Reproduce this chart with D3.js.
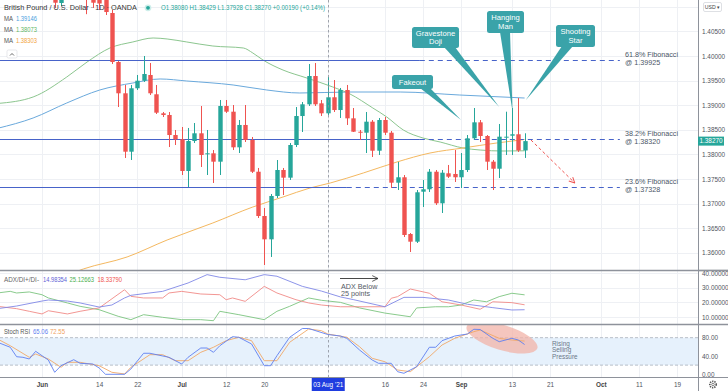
<!DOCTYPE html>
<html><head><meta charset="utf-8">
<script src="https://cdn.jsdelivr.net/npm/d3@7"></script>
<style>body{margin:0;background:#fff;overflow:hidden}svg{display:block;font-family:"Liberation Sans",Arial,sans-serif}</style>
</head><body><svg id="c" width="728" height="391"></svg>
<script>
// ---------- DATA ----------
const candleIdx = [-7,-6,-5,-4,-3,-2,-1,0,1,2,3,4,5,6,7,8,9,10,11,12,13,14,15,16,17,18,19,20,21,22,23,24,25,26,27,28,29,30,31,32,33,34,35,36,37,38,39,40,41,42,43,44,45,46,47,48,49,50,51,52,53,54,55,56,57,58,59,60,61,62,63,64,65,66,67,68,69,70,71,72,73,74,75,76];
const openP = [1.4170,1.4150,1.4180,1.4150,1.4130,1.4190,1.4180,1.4170,1.4160,1.4124,1.41077,1.4125,1.4160,1.4140,1.4145,1.41199,1.41179,1.41138,1.40874,1.39878,1.39242,1.38055,1.39344,1.39498,1.39614,1.39222,1.38835,1.38801,1.38394,1.38307,1.37663,1.38272,1.38429,1.38002,1.38022,1.37852,1.38984,1.38868,1.38144,1.38598,1.38293,1.37648,1.36748,1.36274,1.37155,1.37683,1.37527,1.38191,1.38780,1.39018,1.39593,1.39038,1.38835,1.39161,1.38902,1.39309,1.38733,1.38461,1.38441,1.38665,1.38075,1.38699,1.38441,1.37425,1.37535,1.36382,1.36226,1.37242,1.37291,1.37648,1.37006,1.37616,1.37602,1.37535,1.37683,1.38327,1.38652,1.38374,1.37852,1.37709,1.38348,1.38380,1.38409,1.38080];
const highP = [1.4200,1.4190,1.4200,1.4165,1.4200,1.4220,1.4210,1.4230,1.4190,1.4144,1.4150,1.4170,1.4175,1.4160,1.4155,1.4140,1.4135,1.4130,1.40935,1.39898,1.39411,1.39411,1.39614,1.40000,1.39858,1.39411,1.38862,1.38862,1.38496,1.38557,1.38537,1.38638,1.38984,1.38496,1.38089,1.39106,1.39106,1.39004,1.38699,1.39004,1.38354,1.37724,1.36911,1.37195,1.37886,1.37724,1.38232,1.38963,1.39065,1.39837,1.39858,1.39106,1.39573,1.39512,1.39350,1.39411,1.38943,1.38496,1.38862,1.38699,1.38740,1.38760,1.38476,1.37846,1.37581,1.36402,1.37276,1.37480,1.37703,1.37683,1.37683,1.37785,1.38089,1.38028,1.38394,1.38943,1.38699,1.38394,1.37886,1.38618,1.38868,1.38943,1.39146,1.38429];
const lowP = [1.4140,1.4130,1.4140,1.4120,1.4125,1.4160,1.4150,1.4140,1.4120,1.40976,1.41016,1.4120,1.4130,1.4118,1.4085,1.40976,1.40935,1.40833,1.39837,1.38963,1.37927,1.37886,1.39309,1.39472,1.39207,1.38821,1.38760,1.38150,1.38191,1.37581,1.37337,1.38232,1.37744,1.37581,1.37419,1.37581,1.38841,1.38089,1.38028,1.38252,1.37622,1.36707,1.35752,1.35915,1.37114,1.37175,1.37480,1.38150,1.38455,1.38984,1.38984,1.38780,1.38801,1.38862,1.38740,1.38598,1.38455,1.38293,1.38028,1.37947,1.37988,1.38394,1.37317,1.37276,1.36321,1.36016,1.36199,1.36931,1.37236,1.36972,1.36809,1.37520,1.37439,1.37317,1.37642,1.38293,1.38252,1.37683,1.37276,1.37520,1.37988,1.37988,1.38049,1.37928];
const closeP = [1.4150,1.4180,1.4150,1.4130,1.4190,1.4180,1.4170,1.4160,1.4170,1.41083,1.4125,1.4160,1.4140,1.4145,1.4120,1.41083,1.41067,1.40894,1.39878,1.39242,1.38055,1.39344,1.39498,1.39634,1.39242,1.38848,1.38801,1.38394,1.38307,1.37663,1.38272,1.38429,1.37988,1.38022,1.37852,1.38984,1.38868,1.38144,1.38598,1.38293,1.37648,1.36748,1.36274,1.37155,1.37683,1.37527,1.38191,1.38780,1.39018,1.39593,1.39018,1.38835,1.39161,1.38902,1.39309,1.38733,1.38461,1.38441,1.38665,1.38075,1.38699,1.38441,1.37425,1.37535,1.36362,1.36226,1.37230,1.37291,1.37648,1.37006,1.37628,1.37547,1.37535,1.37683,1.38327,1.38652,1.38374,1.37852,1.37709,1.38360,1.38360,1.38409,1.38080,1.38270];

// moving averages [day index, price]
const maBlue = [[-7,1.38530],[-1.4,1.38740],[3.9,1.39045],[9.1,1.39309],[14.3,1.39451],[18.6,1.39533],[22.8,1.39492],[30.1,1.39411],[35.4,1.39309],[40.6,1.39248],[48.5,1.39268],[56.4,1.39268],[65.8,1.39207],[76,1.39146]];
const maGreen = [[-7,1.39035],[-1.4,1.39167],[3.9,1.39573],[7.1,1.39878],[10.7,1.40163],[14.3,1.40285],[17.5,1.40366],[19.7,1.40346],[22.8,1.40285],[26.9,1.40203],[31.7,1.40163],[33.2,1.40061],[34.8,1.39919],[37.95,1.39715],[41.7,1.39553],[45.8,1.39370],[48.5,1.39228],[52.1,1.38943],[54.3,1.38760],[56.9,1.38496],[60,1.38333],[62.7,1.38252],[66.3,1.38130],[69,1.38089],[72.6,1.38069],[76,1.38073]];
const maOrange = [[2.8,1.35488],[6.5,1.35671],[13.4,1.35915],[19.7,1.36260],[26.9,1.36606],[33.2,1.36931],[37.95,1.37134],[42.2,1.37317],[45.4,1.37419],[50.6,1.37622],[55.9,1.37846],[61.1,1.38028],[66.3,1.38130],[71.6,1.38232],[76,1.38303]];

// ADX / DI+ / DI-
const adxIdx = [-7,-4,0,1,4,6,9,11,13,14,19,23,26,28,32,35,37,41,44,47,49,54,57,60,64,67,71,74,76];
const adxVal = [15.7,17.5,20.9,21.6,20.9,19.6,16.8,18.2,23.0,24.8,27.5,33.2,38.9,37.1,35.4,38.9,37.8,30.9,27.7,23.7,21.9,17.0,23.4,23.4,21.6,18.7,16.4,14.8,14.98];
const diPlusIdx = [-7,-5,-4,-2,0,1,4,6,9,12,14,16,19,22,25,27,28,31,35,37,39,42,44,47,50,54,58,59,62,64,66,68,70,72,74,76];
const diPlusVal = [26.4,27.5,26.4,27.1,25.2,23.0,19.6,17.3,15.0,10.5,8.2,11.6,9.8,8.2,8.2,7.5,13.9,11.6,8.2,13.9,17.3,23.0,21.4,20.0,16.2,12.7,10.2,16.2,17.0,17.0,18.2,21.6,20.4,23.9,26.2,25.13];
const diMinusIdx = [-7,-4,-2,0,1,4,6,9,13,14,16,19,20,22,25,28,29,30,32,35,37,40,42,44,47,54,55,56,58,61,63,66,69,71,74,76];
const diMinusVal = [17.3,15.7,13.9,12.1,14.3,12.1,13.9,16.2,28.6,24.1,23.0,23.0,26.4,27.5,25.7,25.2,21.8,23.0,20.7,30.9,26.4,21.8,19.6,18.2,17.0,17.0,22.8,23.9,29.1,26.2,20.4,18.2,15.3,20.4,19.8,18.34];

// Stoch RSI
const kIdx = [-7,-5,-4,-3,-2,-1,0,1,2,3,5,6,8,9,10,13,14,16,17,20,22,23,25,26,27,28,30,31,33,35,36,37,39,41,42,45,47,48,50,52,53,55,56,57,59,61,62,63,65,67,68,69,71,72,74,75,76];
const kVal = [69.9,59.0,38.4,37.1,33.4,50.2,40.6,31.2,4.4,18.8,31.9,24.0,22.5,13.8,0,0,11.6,45.9,45.9,37.1,22.5,37.1,57.4,57.4,48.0,62.4,82.1,80.8,66.2,18.8,18.8,40.6,80.8,100,100,86.9,83.6,78.6,53.1,31.2,24.0,24.0,5.7,2.2,16.6,59.0,59.0,73.4,83.6,88.0,98.3,97.8,78.6,71.2,78.6,74.9,65.06];
const dIdx = [-7,-5,-2,-1,1,3,4,6,9,11,13,14,17,19,21,23,25,27,29,31,33,35,37,39,42,44,45,48,50,52,54,56,58,61,63,65,68,69,72,74,76];
const dVal = [77.1,62.4,37.1,44.3,33.4,15.3,26.2,26.2,18.8,4.4,0.7,15.3,42.8,42.8,29.7,29.7,48.0,59.0,73.4,80.8,73.4,29.7,29.7,69.9,98.9,95.2,88.0,80.8,60.3,34.9,27.5,9.4,5.7,38.4,64.0,78.6,93.0,96.7,78.6,74.9,72.55];

// axis ticks
const priceTicks = [1.36,1.365,1.37,1.375,1.38,1.385,1.39,1.395,1.40,1.405];
const priceGrid = [1.36,1.365,1.37,1.375,1.38,1.385,1.39,1.395,1.40,1.405,1.41];
const adxTicks = [10,20,30,40];
const stochTicks = [0,40,80];
const dateTickIdx = [0,9,15,22,29,35,45,54,60,66,74,80,88,94,100];
const dateTickLabels = ["Jun","14","22","Jul","12","20","03 Aug '21","16","24","Sep","13","21","Oct","11","19"];

// fibonacci levels
const fibNames = ["61.8% Fibonacci","38.2% Fibonacci","23.6% Fibonacci"];
const fibLevels = [1.39925,1.38320,1.37328];

// ---------- SCALES ----------
const W=728, PR=698;
const x = d3.scaleLinear().domain([0,100]).range([42,677]);
const yP = d3.scaleLinear().domain([1.36,1.40]).range([252.8,56]);
const yA = d3.scaleLinear().domain([10,40]).range([317.03,273.02]);
const yS = d3.scaleLinear().domain([0,100]).range([374.3,328.5]);
const UP="#26a69a", DN="#ef5350";

const svg = d3.select("#c");
const defs = svg.append("defs");
[["cm",0,0,PR,270],["ca",0,271,PR,53],["cs",0,325,PR,52]].forEach(c=>{
  defs.append("clipPath").attr("id",c[0]).append("rect").attr("x",c[1]).attr("y",c[2]).attr("width",c[3]).attr("height",c[4]);
});
defs.append("marker").attr("id","arrR").attr("viewBox","0 0 10 10").attr("refX",9).attr("refY",5)
  .attr("markerWidth",7).attr("markerHeight",7).attr("orient","auto")
  .append("path").attr("d","M1,1 L9,5 L1,9").attr("fill","none").attr("stroke","#ef5350").attr("stroke-width",1.4);
defs.append("marker").attr("id","arrK").attr("viewBox","0 0 10 10").attr("refX",9).attr("refY",5)
  .attr("markerWidth",8).attr("markerHeight",8).attr("orient","auto")
  .append("path").attr("d","M1,1 L9,5 L1,9").attr("fill","none").attr("stroke","#333").attr("stroke-width",1.1);

// ---------- GRID ----------
const grid = svg.append("g").attr("stroke","#eef0f4").attr("stroke-width",1);
grid.selectAll("line.v").data(dateTickIdx).join("line")
  .attr("x1",d=>Math.round(x(d))+0.5).attr("x2",d=>Math.round(x(d))+0.5).attr("y1",0).attr("y2",377);
grid.selectAll("line.hp").data(priceGrid).join("line").attr("class","hp")
  .attr("x1",0).attr("x2",PR).attr("y1",d=>Math.round(yP(d))+0.5).attr("y2",d=>Math.round(yP(d))+0.5);
grid.selectAll("line.ha").data(adxTicks).join("line").attr("class","ha")
  .attr("x1",0).attr("x2",PR).attr("y1",d=>Math.round(yA(d))+0.5).attr("y2",d=>Math.round(yA(d))+0.5);
grid.selectAll("line.hs").data([40]).join("line").attr("class","hs")
  .attr("x1",0).attr("x2",PR).attr("y1",d=>Math.round(yS(d))+0.5).attr("y2",d=>Math.round(yS(d))+0.5);

// ---------- STOCH BAND ----------
svg.append("rect").attr("x",0).attr("width",PR).attr("y",yS(80)).attr("height",yS(20)-yS(80)).attr("fill","#e6f1fc");
[80,20].forEach(v=>svg.append("line").attr("x1",0).attr("x2",PR).attr("y1",yS(v)).attr("y2",yS(v))
  .attr("stroke","#a9b0bb").attr("stroke-dasharray","3,2").attr("stroke-width",0.8));

// ---------- MAIN PANE ----------
const mg = svg.append("g").attr("clip-path","url(#cm)");
const maLine = d3.line().x(d=>x(d[0])).y(d=>yP(d[1])).curve(d3.curveMonotoneX);
mg.append("path").attr("d",maLine(maBlue)).attr("fill","none").attr("stroke","#6aa9dc").attr("stroke-width",1);
mg.append("path").attr("d",maLine(maGreen)).attr("fill","none").attr("stroke","#8cc68f").attr("stroke-width",1);
mg.append("path").attr("d",maLine(maOrange)).attr("fill","none").attr("stroke","#f4b860").attr("stroke-width",1);

// fib lines
const fibSolidEnd=[59.5,59.5,48], fibDashEnd=91;
fibLevels.forEach((lv,k)=>{
  const yy = Math.round(yP(lv))+0.5;
  mg.append("line").attr("x1",0).attr("x2",x(fibSolidEnd[k])).attr("y1",yy).attr("y2",yy).attr("stroke","#4763c9").attr("stroke-width",1);
  mg.append("line").attr("x1",x(fibSolidEnd[k])).attr("x2",x(fibDashEnd)).attr("y1",yy).attr("y2",yy)
    .attr("stroke","#4763c9").attr("stroke-width",1).attr("stroke-dasharray","5,4");
  mg.append("text").attr("x",x(91.8)).attr("y",yy-4).attr("font-size",7.2).attr("fill","#4a5566").text(fibNames[k]);
  mg.append("text").attr("x",x(91.8)).attr("y",yy+4.5).attr("font-size",7.2).attr("fill","#4a5566").text("@ "+lv.toFixed(5));
});

// candles
const cd = candleIdx.map((d,i)=>({i:d,o:openP[i],h:highP[i],l:lowP[i],c:closeP[i]}));
const bw = 4.4;
mg.selectAll("line.w").data(cd).join("line").attr("class","w")
  .attr("x1",d=>Math.round(x(d.i))+0.5).attr("x2",d=>Math.round(x(d.i))+0.5)
  .attr("y1",d=>yP(d.h)).attr("y2",d=>yP(d.l)).attr("stroke",d=>d.c>=d.o?UP:DN).attr("stroke-width",1);
mg.selectAll("rect.b").data(cd).join("rect").attr("class","b")
  .attr("x",d=>Math.round(x(d.i))+0.5-bw/2).attr("width",bw)
  .attr("y",d=>yP(Math.max(d.o,d.c))).attr("height",d=>Math.max(1,Math.abs(yP(d.o)-yP(d.c))))
  .attr("fill",d=>d.c>=d.o?UP:DN);

// red projection arrow
mg.append("line").attr("x1",x(77)).attr("y1",yP(1.38293)).attr("x2",x(83.9)).attr("y2",yP(1.37419))
  .attr("stroke","#ef5350").attr("stroke-width",1).attr("stroke-dasharray","3,2.5").attr("marker-end","url(#arrR)");

// callouts
const TEAL="#3aa3a9";
function callout(bx,by,bw2,bh,base1,base2,tip,lines){
  const g=svg.append("g");
  g.append("path").attr("d",`M${base1},${by+bh-1} L${tip[0]},${tip[1]} L${base2},${by+bh-1} Z`).attr("fill",TEAL);
  g.append("rect").attr("x",bx).attr("y",by).attr("width",bw2).attr("height",bh).attr("rx",2.5).attr("fill",TEAL);
  const cy = by+bh/2 - (lines.length-1)*4.2;
  lines.forEach((t,j)=>g.append("text").attr("x",bx+bw2/2).attr("y",cy+j*8.4).attr("dy","0.35em")
    .attr("text-anchor","middle").attr("font-size",7.6).attr("fill","#fff").text(t));
}
callout(392,75,41,14,420,430,[x(66),yP(1.38699)],["Fakeout"]);
callout(412,27,47,21,444,455,[x(72),yP(1.38963)],["Gravestone","Doji"]);
callout(487,11,37,22,500,510,[x(74.1),yP(1.38868)],["Hanging","Man"]);
callout(556,25,39,22,562,573,[x(76.2),yP(1.39106)],["Shooting","Star"]);

// ---------- ADX PANE ----------
const ag = svg.append("g").attr("clip-path","url(#ca)");
const lineA = d3.line().x(d=>x(d[0])).y(d=>yA(d[1]));
ag.append("path").attr("d",lineA(diPlusIdx.map((d,i)=>[d,diPlusVal[i]]))).attr("fill","none").attr("stroke","#7cc47f").attr("stroke-width",0.9);
ag.append("path").attr("d",lineA(diMinusIdx.map((d,i)=>[d,diMinusVal[i]]))).attr("fill","none").attr("stroke","#f08a87").attr("stroke-width",0.9);
ag.append("path").attr("d",lineA(adxIdx.map((d,i)=>[d,adxVal[i]]))).attr("fill","none").attr("stroke","#8088e6").attr("stroke-width",0.9);
svg.append("line").attr("x1",340).attr("x2",378).attr("y1",278.5).attr("y2",278.5).attr("stroke","#333").attr("stroke-width",0.9).attr("marker-end","url(#arrK)");
svg.append("text").attr("x",341).attr("y",288.5).attr("font-size",7.2).attr("fill","#555b66").text("ADX Below");
svg.append("text").attr("x",341).attr("y",296).attr("font-size",7.2).attr("fill","#555b66").text("25 points");

// ---------- STOCH PANE ----------
const sg = svg.append("g").attr("clip-path","url(#cs)");
sg.append("ellipse").attr("cx",502).attr("cy",337.5).attr("rx",37).attr("ry",12.5)
  .attr("transform","rotate(17,502,337.5)").attr("fill","#f2b3a8").attr("opacity",0.75);
const lineS = d3.line().x(d=>x(d[0])).y(d=>yS(d[1]));
sg.append("path").attr("d",lineS(dIdx.map((d,i)=>[d,dVal[i]]))).attr("fill","none").attr("stroke","#f0a868").attr("stroke-width",0.9);
sg.append("path").attr("d",lineS(kIdx.map((d,i)=>[d,kVal[i]]))).attr("fill","none").attr("stroke","#5f7ff0").attr("stroke-width",0.9);
["Rising","Selling","Pressure"].forEach((t,j)=>svg.append("text").attr("x",552).attr("y",345.6+j*6.8).attr("font-size",6.4).attr("fill","#6b7888").text(t));

// crosshair vertical
svg.append("line").attr("x1",Math.round(x(45))+0.5).attr("x2",Math.round(x(45))+0.5).attr("y1",0).attr("y2",377)
  .attr("stroke","#8a8f99").attr("stroke-width",0.8).attr("stroke-dasharray","2.5,2.5");

// ---------- SEPARATORS / AXES ----------
svg.append("rect").attr("x",PR).attr("y",0).attr("width",W-PR).attr("height",391).attr("fill","#fff");
svg.append("rect").attr("x",0).attr("y",377.5).attr("width",PR).attr("height",14).attr("fill","#fff");
[270.5,324.5].forEach(v=>svg.append("line").attr("x1",0).attr("x2",W).attr("y1",v).attr("y2",v).attr("stroke","#8e929b").attr("stroke-width",1.3));
svg.append("line").attr("x1",0).attr("x2",W).attr("y1",377.5).attr("y2",377.5).attr("stroke","#8e929b").attr("stroke-width",1);
svg.append("line").attr("x1",PR+0.5).attr("x2",PR+0.5).attr("y1",0).attr("y2",391).attr("stroke","#8e929b").attr("stroke-width",1);

function styleAxis(g){g.select(".domain").remove();g.selectAll("line").remove();
  g.selectAll("text").attr("font-size",6.4).attr("fill","#50555e").attr("font-family","Liberation Sans, Arial, sans-serif");}
svg.append("g").attr("transform",`translate(${PR+2},0)`)
  .call(d3.axisRight(yP).tickValues(priceTicks).tickFormat(d=>d.toFixed(5)).tickSize(0).tickPadding(2)).call(styleAxis);
svg.append("g").attr("transform",`translate(${PR+2},0)`)
  .call(d3.axisRight(yA).tickValues(adxTicks).tickFormat(d=>d.toFixed(5)).tickSize(0).tickPadding(2)).call(styleAxis);
svg.append("g").attr("transform",`translate(${PR+2},0)`)
  .call(d3.axisRight(yS).tickValues(stochTicks).tickFormat(d=>d.toFixed(2)).tickSize(0).tickPadding(2)).call(styleAxis);
svg.append("line").attr("x1",PR).attr("x2",W).attr("y1",270.5).attr("y2",270.5).attr("stroke","#8e929b").attr("stroke-width",1.3);

const gx = svg.append("g").attr("transform","translate(0,377)")
  .call(d3.axisBottom(x).tickValues(dateTickIdx).tickFormat((d,i)=>dateTickLabels[i]).tickSize(0).tickPadding(5)).call(styleAxis);
gx.selectAll(".tick").filter(d=>d===45).each(function(){
  const t=d3.select(this);
  t.insert("rect","text").attr("x",-16.5).attr("y",1).attr("width",33).attr("height",13).attr("fill","#1f3de0");
  t.select("text").attr("fill","#fff");
});
gx.selectAll(".tick").filter(d=>d===0||d===22||d===66||d===88).select("text").attr("font-weight","bold").attr("fill","#444");

// current price label
svg.append("rect").attr("x",PR).attr("y",yP(1.3827)-4.5).attr("width",26).attr("height",9).attr("fill",UP);
svg.append("text").attr("x",PR+13).attr("y",yP(1.3827)).attr("dy","0.35em").attr("text-anchor","middle").attr("font-size",6.4).attr("fill","#fff").text("1.38270");
// USD box
svg.append("rect").attr("x",703.5).attr("y",2.5).attr("width",18).attr("height",9).attr("rx",1.5).attr("fill","#fff").attr("stroke","#d0d3d9").attr("stroke-width",0.7);
svg.append("text").attr("x",712.5).attr("y",7).attr("dy","0.35em").attr("text-anchor","middle").attr("font-size",5.2).attr("fill","#444").text("USD ▾");
// gear
svg.append("circle").attr("cx",713).attr("cy",384.5).attr("r",3.2).attr("fill","none").attr("stroke","#555").attr("stroke-width",1.6).attr("stroke-dasharray","1.3,1");
svg.append("circle").attr("cx",713).attr("cy",384.5).attr("r",1.3).attr("fill","none").attr("stroke","#555").attr("stroke-width",0.7);

// ---------- LEGENDS ----------
const fs=6.4;
function legText(t,xx,yy,col,len){
  const e=svg.append("text").attr("x",xx).attr("y",yy).attr("font-size",fs).attr("fill",col).text(t);
  if(len) e.attr("textLength",len).attr("lengthAdjust","spacingAndGlyphs");
  return e;
}
legText("British Pound / U.S. Dollar · 1D · OANDA",4,10,"#333",133);
svg.append("circle").attr("cx",148).attr("cy",7.8).attr("r",3.4).attr("fill","#cdeeea");
svg.append("circle").attr("cx",148).attr("cy",7.8).attr("r",1.9).attr("fill",UP);
legText("O1.38080 H1.38429 L1.37928 C1.38270 +0.00190 (+0.14%)",161,10,UP,164);
const maLeg=[["1.39146","#4a9fe0",21],["1.38073","#5fb764",32],["1.38303","#f2a541",43]];
maLeg.forEach(m=>{ legText("MA",4,m[2],"#555",9); legText(m[0],16,m[2],m[1],21); });
svg.append("rect").attr("x",7).attr("y",50).attr("width",10).attr("height",8).attr("rx",1.5).attr("fill","#fff").attr("stroke","#d6d9de").attr("stroke-width",0.6);
svg.append("path").attr("d","M10,55.5 L12,53.5 L14,55.5").attr("fill","none").attr("stroke","#444").attr("stroke-width",0.8);

const adxLeg=[["ADX/DI+/DI-",4,"#666",35],["14.98354",43,"#5f63d6",24],["25.12663",69.5,"#4caf50",24.5],["18.33790",97.5,"#ef5350",24.5]];
adxLeg.forEach(a=>legText(a[0],a[1],282,a[2],a[3]));
const stLeg=[["Stoch RSI",4,"#555",26],["65.06",33,"#5f7ff0",15],["72.55",50,"#f0a060",15]];
stLeg.forEach(a=>legText(a[0],a[1],333.5,a[2],a[3]));
</script></body></html>
